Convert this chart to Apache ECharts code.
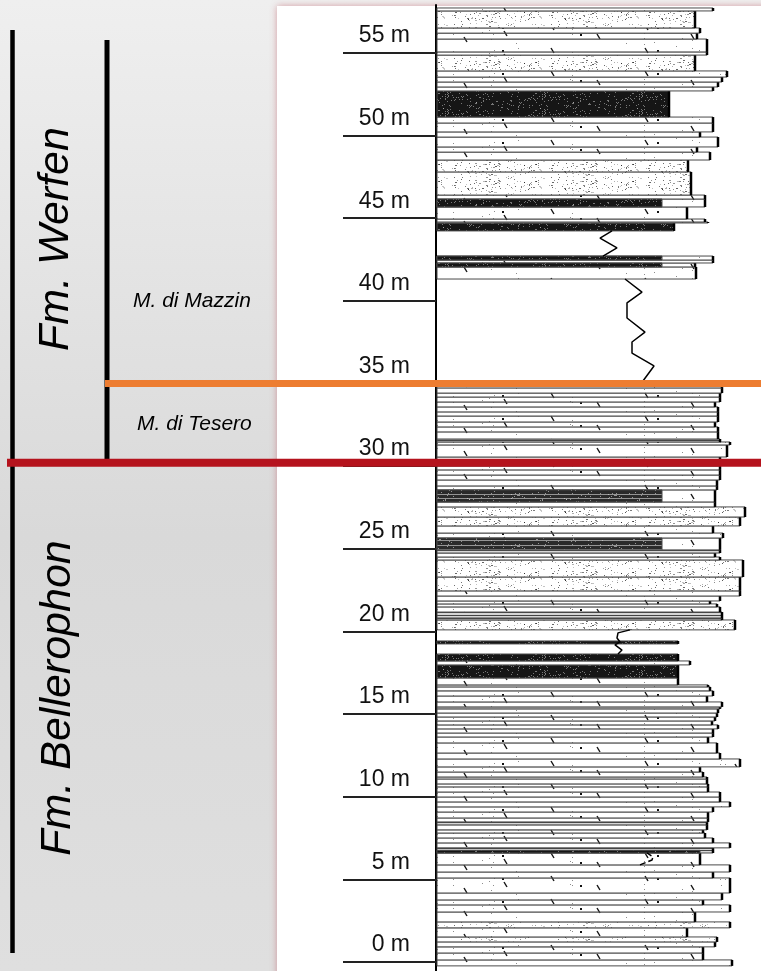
<!DOCTYPE html>
<html><head><meta charset="utf-8">
<script src="https://cdn.jsdelivr.net/npm/echarts@6/dist/echarts.min.js"></script>
<style>html,body{margin:0;padding:0;background:#fff}#c{width:761px;height:971px}</style>
</head><body><div id="c"></div>
<script>
// ---- data (metres above base of section) ----
const tickValues = [0, 5, 10, 15, 20, 25, 30, 35, 40, 45, 50, 55];
const bedBase = [-0.24,0.12,0.54,0.91,1.21,1.51,2.06,2.42,3.02,3.45,3.75,4.17,5.08,5.44,5.87,6.59,6.90,7.20,7.50,7.80,7.99,8.29,8.47,8.71,9.07,9.38,9.68,9.98,10.28,10.59,10.77,11.07,11.19,11.49,
  11.80,12.28,12.64,13.25,13.61,13.85,14.10,14.34,14.58,14.82,15.06,15.31,15.43,15.73,16.09,16.40,16.64,16.76,17.18,17.97,18.21,19.24,20.09,20.69,20.81,21.17,21.48,21.66,21.84,22.14,22.45,
  23.29,24.32,24.50,24.74,24.93,25.65,25.95,26.38,26.92,27.53,27.83,28.56,28.80,29.16,29.46,29.77,30.01,30.55,31.28,31.46,31.64,32.07,32.37,32.67,33.03,33.28,33.58,33.88,34.18,34.42,34.73,
  41.32,42.05,42.29,42.47,44.23,44.71,44.77,44.95,45.68,46.16,46.40,47.80,48.52,49.00,49.31,49.91,50.22,50.76,51.12,52.70,52.94,53.24,53.54,53.91,54.87,55.06,55.84,56.20,56.51,57.54];
const bedTop = [0.12,0.54,0.91,1.21,1.51,2.06,2.42,3.02,3.45,3.75,4.17,5.08,5.44,5.87,6.59,6.90,7.20,7.50,7.80,7.99,8.29,8.47,8.71,9.07,9.38,9.68,9.98,10.28,10.59,10.77,11.07,11.19,11.49,11.80,
  12.28,12.64,13.25,13.61,13.85,14.10,14.34,14.58,14.82,15.06,15.31,15.43,15.73,16.09,16.40,16.64,16.76,17.18,17.97,18.21,18.63,19.42,20.69,20.81,21.17,21.48,21.66,21.84,22.14,22.45,23.29,
  24.32,24.50,24.74,24.93,25.65,25.95,26.38,26.92,27.53,27.83,28.56,28.80,29.16,29.46,29.77,30.01,30.55,31.28,31.46,31.64,32.07,32.37,32.67,33.03,33.28,33.58,33.88,34.18,34.42,34.73,34.91,
  42.05,42.29,42.47,42.71,44.71,44.77,44.95,45.68,46.16,46.40,47.80,48.52,49.00,49.31,49.91,50.22,50.76,51.12,52.70,52.94,53.24,53.54,53.91,54.87,55.06,55.84,56.20,56.51,57.54,57.72];
const bedWidth = [296,267,267,279,281,251,294,259,294,267,286,294,277,294,264,277,294,277,269,267,271,271,272,272,277,294,284,284,272,272,271,271,267,264,
  304,284,281,272,277,277,282,276,279,281,282,284,286,271,277,274,272,242,242,254,242,242,299,286,286,284,281,274,284,304,304,
  307,284,279,284,284,287,277,304,309,279,279,281,281,284,284,284,284,291,294,284,282,282,279,282,282,282,279,284,284,286,286,
  260,259,277,277,238,272,269,251,269,269,255,252,274,261,282,264,277,277,233,277,282,286,291,259,271,271,261,264,259,277];
const bedType = ['w','w','w','w','sp','w','sp','w','w','w','w','w','w','w','w','g','w','w','w','w','w','g','w','w','w','w','w','w','w','w','w','w','w','w',
  'w','w','w','w','w','w','w','w','w','w','w','g','w','w','w','w','w','w','k','w','k','k','sp','g','g','w','w','w','w','w','sp',
  'sp','w','w','g','w','w','w','sp','sp','w','w','w','w','w','w','w','w','w','w','g','w','w','w','w','w','w','w','w','w','w','w',
  'w','w','w','w','k','w','w','w','w','w','sp','sp','w','w','w','w','w','w','k','w','w','w','w','sp','w','w','w','w','sp','w'];
const darkBase = [24.93, 27.83, 42.05, 42.47, 45.68, 6.59];
const darkTop = [25.65, 28.56, 42.29, 42.71, 46.16, 6.75];
const darkWidth = [226, 226, 226, 226, 226, 264];
const darkType = ['d', 'd', 'k', 'k', 'k', 'k'];
const coverUpperX = [176, 164, 181, 167];
const coverUpperY = [44.23, 43.80, 43.20, 42.71];
const coverMainX = [189, 206, 191, 191, 209, 196, 196, 218, 204];
const coverMainY = [41.32, 40.53, 39.87, 38.96, 38.11, 37.51, 36.84, 36.06, 34.91];
const coverLowX = [194, 182, 181, 184, 179, 186, 182];
const coverLowY = [20.09, 19.91, 19.60, 19.36, 19.18, 18.87, 18.63];
const curveX = [204, 216, 217, 211];
const curveY = [5.87, 6.17, 6.35, 6.59];
const boundaryBellerophonWerfen = 30.2;
const boundaryTeseroMazzin = 35.0;

// ---- texture patterns (deterministic hash, purely decorative) ----
function hash(i) { const s = Math.sin(i * 12.9898 + 78.233) * 43758.5453; return s - Math.floor(s); }
function makePattern(kind) {
  const W = kind === 'w' ? 311 : 97, H = kind === 'w' ? 23 : 17;
  const c = document.createElement('canvas');
  c.width = W; c.height = H;
  const g = c.getContext('2d');
  if (kind === 'k') {
    g.fillStyle = '#161616'; g.fillRect(0, 0, W, H);
    g.fillStyle = 'rgba(200,200,200,0.55)';
    for (let i = 0; i < 120; i++) g.fillRect(Math.floor(hash(i) * W), Math.floor(hash(i + 500) * H), 1, 1);
  } else if (kind === 'd') {
    g.fillStyle = '#2a2a2a'; g.fillRect(0, 0, W, H);
    g.fillStyle = 'rgba(220,220,220,0.6)';
    for (let r = 1; r < H; r += 4) g.fillRect(0, r, W, 1);
    for (let i = 0; i < 60; i++) g.fillRect(Math.floor(hash(i + 90) * W), Math.floor(hash(i + 900) * H), 1, 1);
  } else if (kind === 'sp') {
    g.fillStyle = '#ffffff'; g.fillRect(0, 0, W, H);
    for (let i = 0; i < 110; i++) {
      g.fillStyle = 'rgba(0,0,0,' + (0.2 + 0.45 * hash(i + 3000)).toFixed(2) + ')';
      g.fillRect(Math.floor(hash(i + 1000) * W), Math.floor(hash(i + 2000) * H), hash(i + 4000) > 0.7 ? 2 : 1, 1);
    }
  } else if (kind === 'g') {
    g.fillStyle = '#d6d6d6'; g.fillRect(0, 0, W, H);
    g.fillStyle = '#444';
    for (let r = 0; r < H; r += 3) g.fillRect(0, r, W, 1);
  } else {
    g.fillStyle = '#ffffff'; g.fillRect(0, 0, W, H);
    g.strokeStyle = '#111'; g.lineWidth = 1.4;
    for (let i = 0; i < 7; i++) {
      const x = 12 + i * 44 + Math.floor(hash(i + 6000) * 16), y = 2 + ((i * 9) % 15);
      g.beginPath(); g.moveTo(x, y); g.lineTo(x + 3, y + 5); g.stroke();
    }
    g.fillStyle = 'rgba(0,0,0,0.45)';
    for (let i = 0; i < 30; i++) g.fillRect(Math.floor(hash(i + 7000) * W), Math.floor(hash(i + 8000) * H), 1, 1);
    g.fillStyle = '#111';
    for (let i = 0; i < 4; i++) g.fillRect(35 + i * 78, 4 + ((i * 7) % 14), 2, 2);
  }
  return { image: c, repeat: 'repeat' };
}
const fills = { w: makePattern('w'), sp: makePattern('sp'), k: makePattern('k'), g: makePattern('g'), d: makePattern('d') };

const chart = echarts.init(document.getElementById('c'));
const FONT = '"Liberation Sans", Arial, Helvetica, sans-serif';

function bedRender(types, withEdge) {
  return function (params, api) {
    const i = params.dataIndex;
    const p0 = api.coord([0, api.value(0)]);
    const p1 = api.coord([api.value(2), api.value(1)]);
    const x = p0[0] + 1, y = p1[1], w = p1[0] - p0[0] - 1, h = p0[1] - p1[1];
    const children = [{
      type: 'rect', shape: { x: x, y: y, width: w, height: h },
      style: { fill: fills[types[i]], stroke: '#4a4a4a', lineWidth: 1 }
    }];
    if (withEdge) children.push({
      type: 'line', shape: { x1: p1[0], y1: y, x2: p1[0], y2: y + h },
      style: { stroke: '#000', lineWidth: 2.5 }
    });
    return { type: 'group', children: children };
  };
}

const zig = (xs, ys, dashed) => ({
  type: 'line', data: xs.map((x, i) => [x, ys[i]]), symbol: 'none', z: 4, silent: true,
  lineStyle: { color: '#000', width: 1.5, type: dashed ? 'dashed' : 'solid' }
});

chart.setOption({
  animation: false,
  grid: { left: 436, right: 0, top: 5, bottom: 0 },
  xAxis: { type: 'value', min: 0, max: 325, show: false },
  yAxis: {
    type: 'value', min: -0.55, max: 57.9,
    axisLine: { show: true, lineStyle: { color: '#000', width: 2 } },
    axisTick: { show: true, customValues: tickValues, length: 93, lineStyle: { color: '#222', width: 2 } },
    axisLabel: {
      customValues: tickValues, formatter: v => v + ' m', fontSize: 23, fontFamily: FONT, color: '#111',
      margin: 26, verticalAlign: 'bottom', lineHeight: 34
    },
    splitLine: { show: false }
  },
  series: [
    { type: 'custom', clip: false, z: 2, encode: { x: 2, y: [0, 1] },
      data: bedBase.map((b, i) => [b, bedTop[i], bedWidth[i]]), renderItem: bedRender(bedType, true) },
    { type: 'custom', clip: false, z: 3, encode: { x: 2, y: [0, 1] },
      data: darkBase.map((b, i) => [b, darkTop[i], darkWidth[i]]), renderItem: bedRender(darkType, false) },
    zig(coverUpperX, coverUpperY, false),
    zig(coverMainX, coverMainY, false),
    zig(coverLowX, coverLowY, false),
    zig(curveX, curveY, true)
  ]
});

const yRed = chart.convertToPixel({ yAxisIndex: 0 }, boundaryBellerophonWerfen);
const yOrange = chart.convertToPixel({ yAxisIndex: 0 }, boundaryTeseroMazzin);

chart.setOption({
  graphic: [
    { type: 'rect', z: -20, shape: { x: 0, y: 0, width: 761, height: 971 },
      style: { fill: new echarts.graphic.LinearGradient(0, 0, 0, 1, [
        { offset: 0, color: '#efefef' }, { offset: 0.55, color: '#d9d9d9' }, { offset: 1, color: '#dfdfdf' }]) } },
    { type: 'rect', z: -19, shape: { x: 277, y: 6, width: 500, height: 980 },
      style: { fill: '#ffffff', shadowBlur: 7, shadowColor: 'rgba(190,90,100,0.55)', shadowOffsetX: 0, shadowOffsetY: 0 } },
    { type: 'line', z: 50, shape: { x1: 12.5, y1: 30, x2: 12.5, y2: 953 }, style: { stroke: '#000', lineWidth: 4.5 } },
    { type: 'line', z: 50, shape: { x1: 107, y1: 40, x2: 107, y2: yRed }, style: { stroke: '#000', lineWidth: 5 } },
    { type: 'line', z: 51, shape: { x1: 105, y1: yOrange, x2: 761, y2: yOrange }, style: { stroke: '#ED7D31', lineWidth: 7 } },
    { type: 'line', z: 51, shape: { x1: 7, y1: yRed, x2: 761, y2: yRed }, style: { stroke: '#B5131D', lineWidth: 8 } },
    { type: 'text', z: 52, x: 56, y: 239, rotation: Math.PI / 2,
      style: { text: 'Fm. Werfen', font: 'italic 43px ' + FONT, fill: '#000', align: 'center', verticalAlign: 'middle' } },
    { type: 'text', z: 52, x: 58, y: 698, rotation: Math.PI / 2,
      style: { text: 'Fm. Bellerophon', font: 'italic 43px ' + FONT, fill: '#000', align: 'center', verticalAlign: 'middle' } },
    { type: 'text', z: 52, x: 133, y: 301,
      style: { text: 'M. di Mazzin', font: 'italic 21px ' + FONT, fill: '#000', align: 'left', verticalAlign: 'middle' } },
    { type: 'text', z: 52, x: 137, y: 424,
      style: { text: 'M. di Tesero', font: 'italic 21px ' + FONT, fill: '#000', align: 'left', verticalAlign: 'middle' } }
  ]
});
</script></body></html>
